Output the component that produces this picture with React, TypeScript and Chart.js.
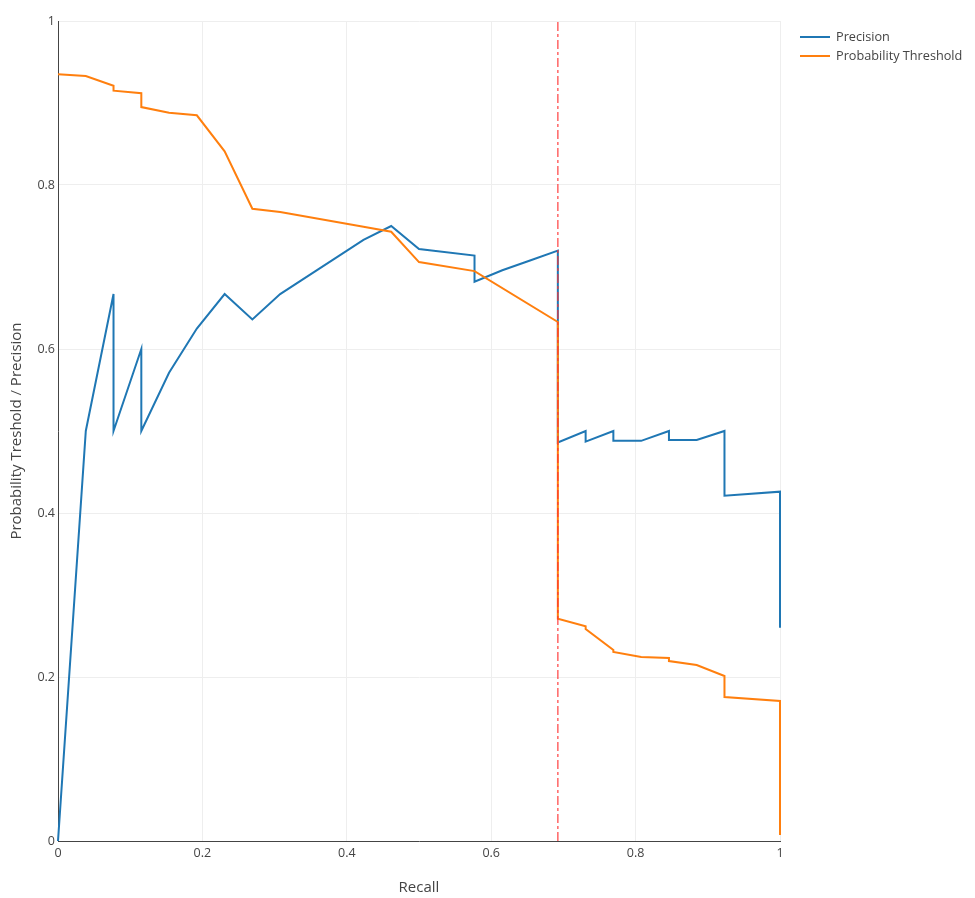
import React, { useEffect, useRef } from 'react';
import { Chart, registerables, Plugin } from 'chart.js';

Chart.register(...registerables);

// precision curve
const recallP = [0, 0.0385, 0.0769, 0.0769, 0.1154, 0.1154, 0.1538, 0.1923, 0.2308, 0.2692, 0.3077, 0.4231, 0.4615, 0.5, 0.5769, 0.5769, 0.6154, 0.6538, 0.6923, 0.6923, 0.7308, 0.7308, 0.7692, 0.7692, 0.8077, 0.8462, 0.8462, 0.8846, 0.9231, 0.9231, 1, 1];
const precision = [0, 0.5, 0.667, 0.5, 0.6, 0.5, 0.571, 0.625, 0.667, 0.636, 0.667, 0.733, 0.75, 0.722, 0.714, 0.682, 0.696, 0.708, 0.72, 0.486, 0.5, 0.487, 0.5, 0.488, 0.488, 0.5, 0.489, 0.489, 0.5, 0.421, 0.426, 0.26];

// probability threshold curve
const recallT = [0, 0.0385, 0.0769, 0.0769, 0.1154, 0.1154, 0.1538, 0.1923, 0.2308, 0.2692, 0.3077, 0.4231, 0.4615, 0.5, 0.5769, 0.6923, 0.6923, 0.7308, 0.7308, 0.7692, 0.7692, 0.8077, 0.8462, 0.8462, 0.8846, 0.9231, 0.9231, 1, 1];
const threshold = [0.935, 0.933, 0.921, 0.915, 0.912, 0.895, 0.888, 0.885, 0.841, 0.771, 0.767, 0.749, 0.743, 0.706, 0.695, 0.633, 0.271, 0.262, 0.2585, 0.233, 0.2305, 0.2244, 0.2232, 0.2195, 0.2146, 0.2012, 0.1756, 0.1707, 0.0073];

// chosen cut-off (dash-dot marker)
const cutoffRecall = 0.6923;
const cutoffY = [0, 1];

const seriesNames = ['Precision', 'Probability Threshold'];
const seriesColors = ['#1f77b4', '#ff7f0e'];

const FONT = '"Open Sans", verdana, arial, sans-serif';

const toPoints = (xs: number[], ys: number[]) => xs.map((x, i) => ({ x, y: ys[i] }));
const fmt = (v: number | string) => String(Number(Number(v).toFixed(2)));

const decorations: Plugin<'line'> = {
    id: 'decorations',
    afterDraw(chart) {
        const { ctx, chartArea } = chart;
        ctx.save();
        ctx.fillStyle = '#444';
        ctx.font = `15px ${FONT}`;
        ctx.textAlign = 'center';
        ctx.textBaseline = 'middle';
        ctx.fillText('Recall', (chartArea.left + chartArea.right) / 2, 888);
        ctx.translate(17, (chartArea.top + chartArea.bottom) / 2);
        ctx.rotate(-Math.PI / 2);
        ctx.fillText('Probability Treshold / Precision', 0, 0);
        ctx.restore();

        // legend
        ctx.save();
        ctx.font = `12.7px ${FONT}`;
        ctx.textBaseline = 'middle';
        ctx.textAlign = 'left';
        seriesNames.forEach((name, i) => {
            const y = 37 + i * 19;
            ctx.strokeStyle = seriesColors[i];
            ctx.lineWidth = 2;
            ctx.beginPath();
            ctx.moveTo(800, y);
            ctx.lineTo(830, y);
            ctx.stroke();
            ctx.fillStyle = '#444';
            ctx.fillText(name, 836, y);
        });
        ctx.restore();
    }
};

const App: React.FC = () => {
    const canvasRef = useRef<HTMLCanvasElement>(null);

    useEffect(() => {
        const ctx = canvasRef.current?.getContext('2d');
        if (!ctx) return;
        const chart = new Chart(ctx, {
            type: 'line',
            data: {
                datasets: [
                    {
                        label: seriesNames[0],
                        data: toPoints(recallP, precision),
                        borderColor: seriesColors[0],
                        borderWidth: 2,
                        pointRadius: 0,
                        tension: 0,
                        clip: 3,
                        order: 2
                    },
                    {
                        label: seriesNames[1],
                        data: toPoints(recallT, threshold),
                        borderColor: seriesColors[1],
                        borderWidth: 2,
                        pointRadius: 0,
                        tension: 0,
                        clip: 3,
                        order: 1
                    },
                    {
                        label: 'cutoff',
                        data: cutoffY.map(y => ({ x: cutoffRecall, y })),
                        borderColor: 'rgba(255, 50, 50, 0.75)',
                        borderWidth: 1.5,
                        borderDash: [9, 3, 3, 3],
                        pointRadius: 0,
                        order: 0
                    }
                ]
            },
            options: {
                animation: false,
                responsive: true,
                maintainAspectRatio: false,
                layout: { padding: { top: 21, right: 195, left: 0, bottom: 0 } },
                plugins: {
                    legend: { display: false },
                    tooltip: { enabled: false }
                },
                scales: {
                    x: {
                        type: 'linear',
                        min: 0,
                        max: 1,
                        afterFit: (s: any) => { s.height = 57; },
                        grid: { color: '#eee', drawTicks: false },
                        border: { display: true, color: '#444', width: 1 },
                        ticks: { stepSize: 0.2, color: '#444', padding: 5, font: { family: FONT, size: 12.5 }, callback: fmt }
                    },
                    y: {
                        type: 'linear',
                        min: 0,
                        max: 1,
                        afterFit: (s: any) => { s.width = 58; },
                        grid: { color: '#eee', drawTicks: false },
                        border: { display: true, color: '#444', width: 1 },
                        ticks: { stepSize: 0.2, color: '#444', padding: 3, font: { family: FONT, size: 12.5 }, callback: fmt }
                    }
                }
            },
            plugins: [decorations]
        });
        return () => chart.destroy();
    }, []);

    return (
        <div style={{ position: 'absolute', left: 0, top: 0, width: 975, height: 898, background: '#fff' }}>
            <canvas ref={canvasRef} />
        </div>
    );
};

export default App;
